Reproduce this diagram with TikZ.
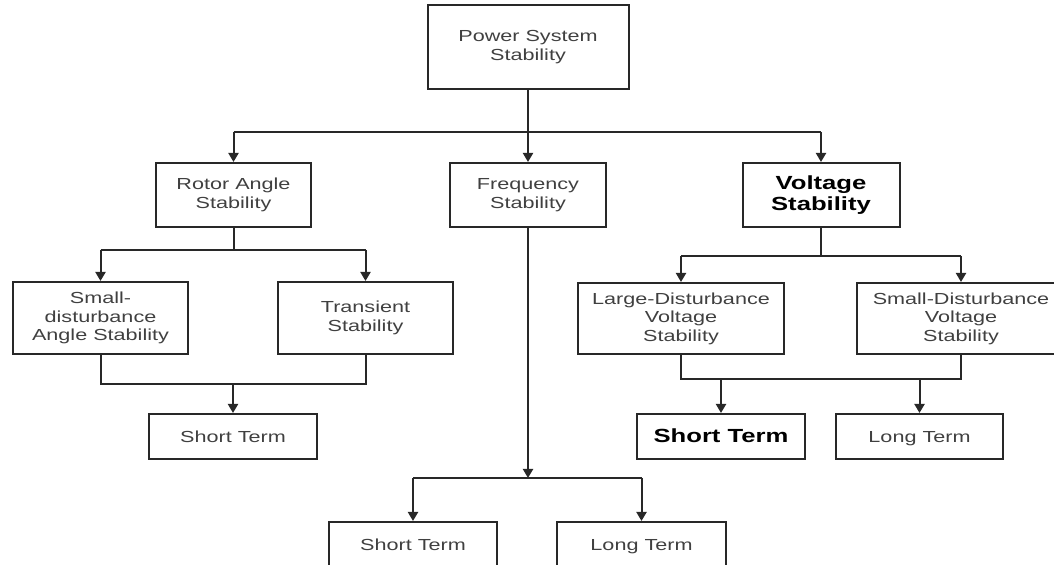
\documentclass[tikz,border=0pt]{standalone}
\usepackage{fontspec}
\setmainfont[FakeStretch=1.35]{Liberation Sans}
\usepackage{xcolor}
\usetikzlibrary{arrows.meta,positioning}
\definecolor{linegray}{RGB}{40,40,40}
\definecolor{textgray}{RGB}{64,64,64}

\begin{document}
\begin{tikzpicture}[
    x=0.5pt, y=-0.5pt,
    font=\fontsize{8}{9.2}\selectfont,
    box/.style={draw=linegray, line width=1pt, inner sep=1pt, align=center, text=textgray},
    boldbox/.style={box, font=\fontsize{9.5}{10.8}\selectfont\bfseries, text=black},
    termbox/.style={minimum height=22.5pt, text height=1.6ex, text depth=0.45ex},
    conn/.style={draw=linegray, line width=1pt},
    arr/.style={conn, -{Triangle[width=5pt,length=4.5pt]}}
]
\useasboundingbox (0,0) rectangle (1054,565);

% top level
\node[box, minimum width=100.5pt, minimum height=42pt] (pss) at (528,47) {Power System\\Stability};
\node[box, minimum width=77.5pt, minimum height=32pt] (rotor) at (233.5,195) {Rotor Angle\\Stability};
\node[box, minimum width=78pt, minimum height=32pt] (freq) at (528,195) {Frequency\\Stability};
\node[boldbox, minimum width=78.5pt, minimum height=32pt] (volt) at (821,195) {Voltage\\Stability};

% second level
\node[box, minimum width=87.5pt, minimum height=36pt] (sdang) at (100.5,318) {Small-\\disturbance\\Angle Stability};
\node[box, minimum width=87.5pt, minimum height=36pt] (trans) at (365.5,318) {Transient\\Stability};
\node[box, minimum width=103pt, minimum height=35.5pt] (ldvolt) at (681,318.5) {Large-Disturbance\\Voltage\\Stability};
\node[box, minimum width=104pt, minimum height=35.5pt] (sdvolt) at (961,318.5) {Small-Disturbance\\Voltage\\Stability};

% time frames
\node[box, termbox, minimum width=84pt] (rshort) at (233,436.5) {Short Term};
\node[boldbox, termbox, minimum width=84pt] (vshort) at (721,436.5) {Short Term};
\node[box, termbox, minimum width=83.5pt] (vlong) at (919.5,436.5) {Long Term};
\node[box, termbox, minimum width=84pt] (fshort) at (413,544.5) {Short Term};
\node[box, termbox, minimum width=84.5pt] (flong) at (641.5,544.5) {Long Term};

% branch points
\coordinate (topfork) at (528,132);
\coordinate (rotfork) at (233.5,250);
\coordinate (rotjoin) at (233,384);
\coordinate (voltfork) at (821,256);
\coordinate (voltjoin) at (821,379);
\coordinate (freqfork) at (528,478);

\draw[arr] (pss) -- (freq);
\draw[conn] (topfork -| rotor.north) -- (topfork -| volt.north);
\draw[arr] (topfork -| rotor.north) -- (rotor.north);
\draw[arr] (topfork -| volt.north) -- (volt.north);

\draw[conn] (rotor.south) -- (rotfork);
\draw[conn] (rotfork -| sdang.north) -- (rotfork -| trans.north);
\draw[arr] (rotfork -| sdang.north) -- (sdang.north);
\draw[arr] (rotfork -| trans.north) -- (trans.north);
\draw[conn] (sdang.south) |- (rotjoin) -| (trans.south);
\draw[arr] (rotjoin) -- (rshort);

\draw[conn] (volt.south) -- (voltfork);
\draw[conn] (voltfork -| ldvolt.north) -- (voltfork -| sdvolt.north);
\draw[arr] (voltfork -| ldvolt.north) -- (ldvolt.north);
\draw[arr] (voltfork -| sdvolt.north) -- (sdvolt.north);
\draw[conn] (ldvolt.south) |- (voltjoin) -| (sdvolt.south);
\draw[arr] (voltjoin -| vshort.north) -- (vshort.north);
\draw[arr] (voltjoin -| vlong.north) -- (vlong.north);

\draw[arr] (freq.south) -- (freqfork);
\draw[conn] (freqfork -| fshort.north) -- (freqfork -| flong.north);
\draw[arr] (freqfork -| fshort.north) -- (fshort.north);
\draw[arr] (freqfork -| flong.north) -- (flong.north);
\end{tikzpicture}
\end{document}
